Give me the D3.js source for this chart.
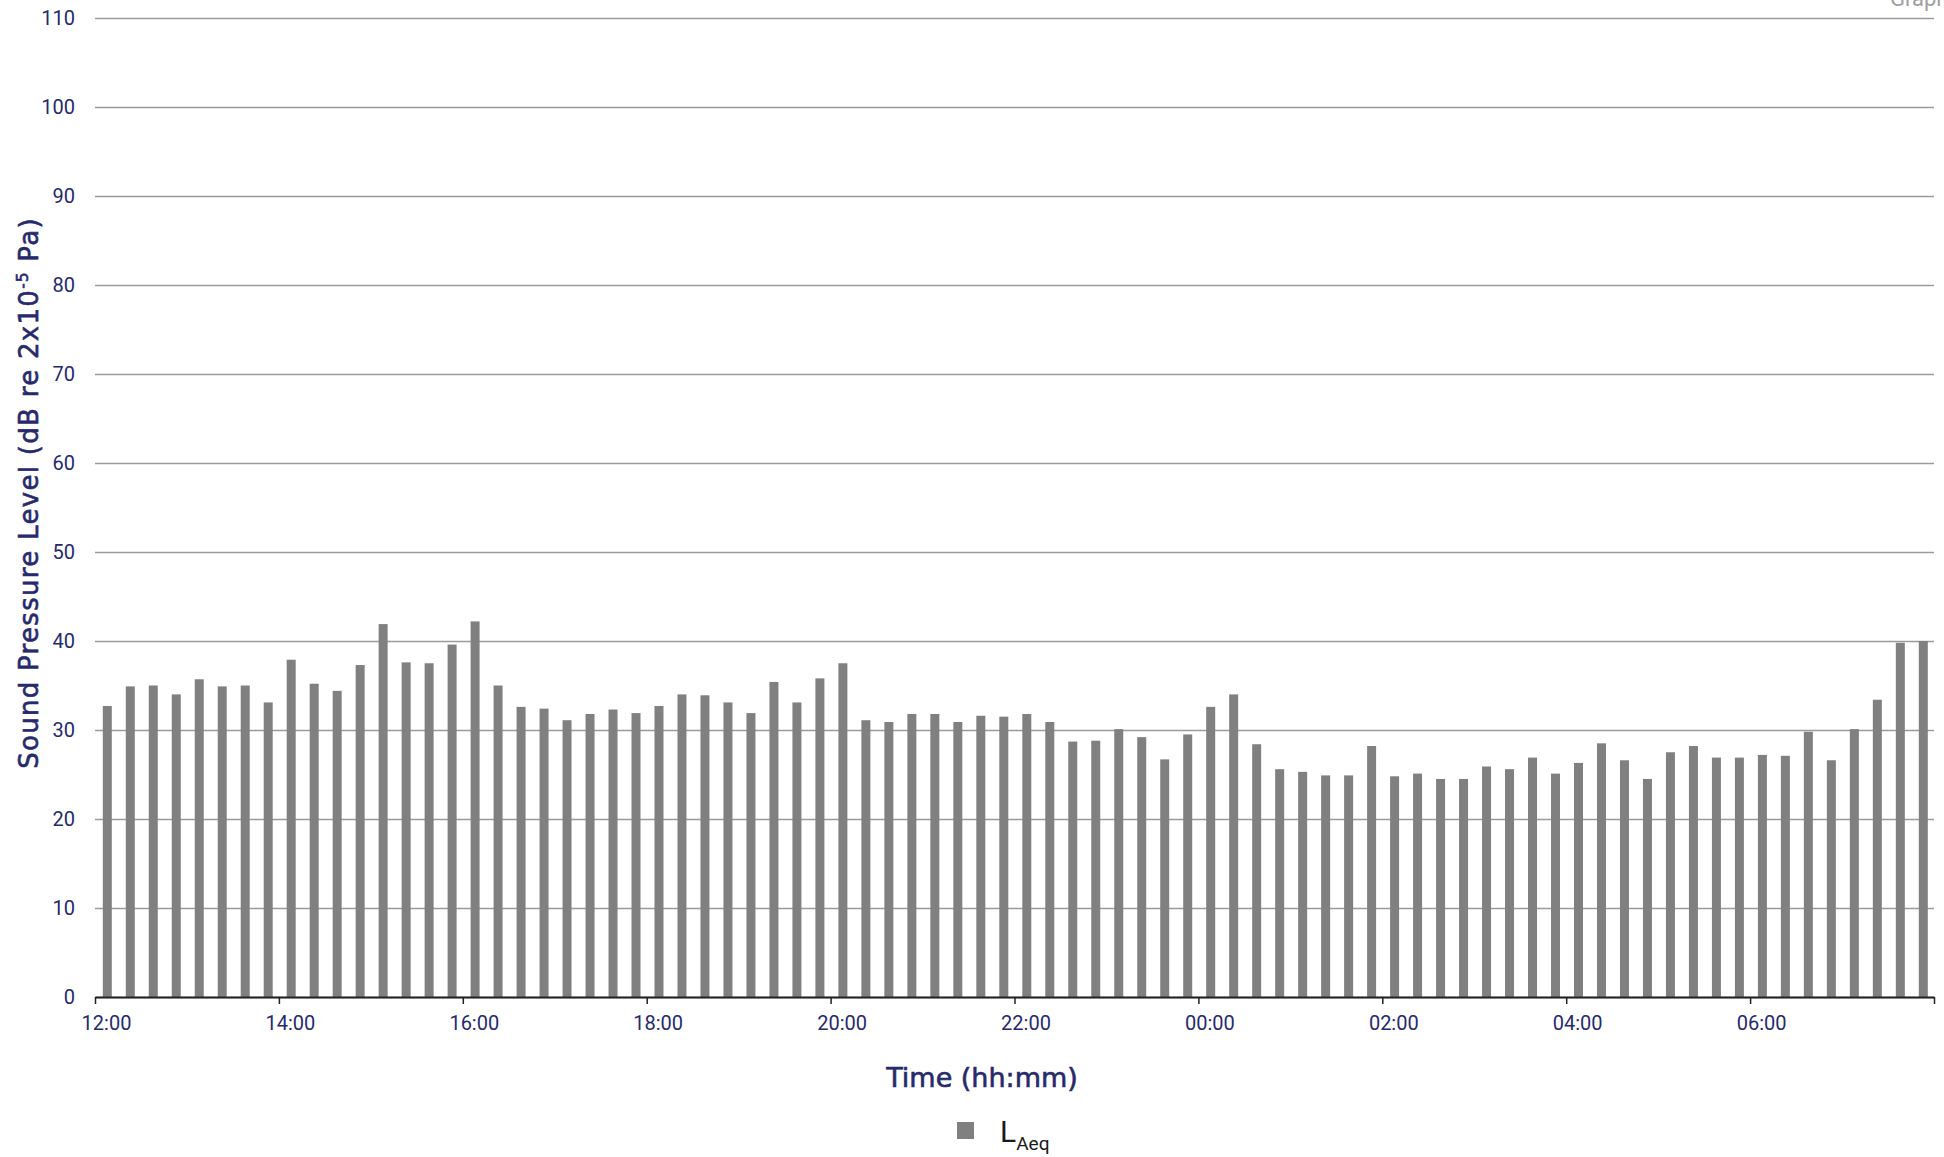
<!DOCTYPE html>
<html>
<head>
<meta charset="utf-8">
<script src="https://cdn.jsdelivr.net/npm/d3@7"></script>
<style>
  body { margin: 0; background: #fff; overflow: hidden; }
  svg { display: block; font-family: Roboto, "DejaVu Sans", sans-serif; }
</style>
</head>
<body>
<svg id="chart" width="1944" height="1157"></svg>
<script>
// 15 minute periods, 12:00 to 07:45
var times = [
	"12:00","12:15","12:30","12:45","13:00","13:15","13:30","13:45",
	"14:00","14:15","14:30","14:45","15:00","15:15","15:30","15:45",
	"16:00","16:15","16:30","16:45","17:00","17:15","17:30","17:45",
	"18:00","18:15","18:30","18:45","19:00","19:15","19:30","19:45",
	"20:00","20:15","20:30","20:45","21:00","21:15","21:30","21:45",
	"22:00","22:15","22:30","22:45","23:00","23:15","23:30","23:45",
	"00:00","00:15","00:30","00:45","01:00","01:15","01:30","01:45",
	"02:00","02:15","02:30","02:45","03:00","03:15","03:30","03:45",
	"04:00","04:15","04:30","04:45","05:00","05:15","05:30","05:45",
	"06:00","06:15","06:30","06:45","07:00","07:15","07:30","07:45"
];

// LAeq per period (dB)
var laeq = [
	32.7, 34.9, 35.0, 34.0, 35.7, 34.9, 35.0, 33.1,
	37.9, 35.2, 34.4, 37.3, 41.9, 37.6, 37.5, 39.6,
	42.2, 35.0, 32.6, 32.4, 31.1, 31.8, 32.3, 31.9,
	32.7, 34.0, 33.9, 33.1, 31.9, 35.4, 33.1, 35.8,
	37.5, 31.1, 30.9, 31.8, 31.8, 30.9, 31.6, 31.5,
	31.8, 30.9, 28.7, 28.8, 30.1, 29.2, 26.7, 29.5,
	32.6, 34.0, 28.4, 25.6, 25.3, 24.9, 24.9, 28.2,
	24.8, 25.1, 24.5, 24.5, 25.9, 25.6, 26.9, 25.1,
	26.3, 28.5, 26.6, 24.5, 27.5, 28.2, 26.9, 26.9,
	27.2, 27.1, 29.8, 26.6, 30.1, 33.4, 39.8, 40.0
];

var tickLabels = ["12:00","14:00","16:00","18:00","20:00","22:00","00:00","02:00","04:00","06:00"];
var yTicks = [0, 10, 20, 30, 40, 50, 60, 70, 80, 90, 100, 110];

var navy = "#262a6c";
var svg = d3.select("#chart");

var plotLeft = 95, plotRight = 1934, plotTop = 18, plotBottom = 997;

var x = d3.scaleBand()
	.domain(times)
	.range([plotLeft, plotRight])
	.padding(0);

// tick marks sit on band edges, one every 2 hours
var xEdge = d3.scaleLinear()
	.domain([0, times.length])
	.range([plotLeft, plotRight]);

var y = d3.scaleLinear()
	.domain([0, 110])
	.range([plotBottom, plotTop]);

// gridlines + y labels
var yAxis = svg.append("g")
	.attr("transform", "translate(" + plotLeft + ",0)")
	.call(d3.axisLeft(y)
		.tickValues(yTicks)
		.tickSize(-(plotRight - plotLeft))
		.tickPadding(20)
		.tickFormat(d3.format("d")));
yAxis.select(".domain").remove();
yAxis.selectAll(".tick line")
	.attr("stroke", "#9a9a9a")
	.attr("stroke-width", 1.3);
yAxis.selectAll(".tick text")
	.attr("fill", navy)
	.attr("font-size", 20)
	.attr("font-family", "Roboto, sans-serif");

// bars
var barW = 9;
svg.append("g")
	.selectAll("rect")
	.data(laeq)
	.enter()
		.append("rect")
			.attr("x", function(d, i) { return x(times[i]) + x.bandwidth() / 2 - barW / 2 + 0.8; })
			.attr("width", barW)
			.attr("y", function(d) { return y(d); })
			.attr("height", function(d) { return y(0) - y(d); })
			.attr("fill", "#808080");

// x axis: ticks on edges
var edgeTicks = d3.range(0, times.length + 1, 8);
var xTicks = svg.append("g")
	.attr("transform", "translate(0," + plotBottom + ")")
	.call(d3.axisBottom(xEdge)
		.tickValues(edgeTicks)
		.tickSize(7)
		.tickSizeOuter(0)
		.tickFormat(""));
xTicks.select(".domain")
	.attr("stroke", "#222")
	.attr("stroke-width", 2);
xTicks.selectAll(".tick line")
	.attr("stroke", "#222")
	.attr("stroke-width", 1.5);

// x labels centred on the bar
var xLabels = svg.append("g")
	.attr("transform", "translate(0," + plotBottom + ")")
	.call(d3.axisBottom(x)
		.tickValues(tickLabels)
		.tickSize(0)
		.tickPadding(19));
xLabels.select(".domain").remove();
xLabels.selectAll(".tick text")
	.attr("fill", navy)
	.attr("font-size", 20)
	.attr("font-family", "Roboto, sans-serif");

// axis titles (medium weight look: regular + thin stroke)
svg.append("text")
	.attr("x", 982)
	.attr("y", 1087)
	.attr("text-anchor", "middle")
	.attr("fill", navy)
	.attr("stroke", navy)
	.attr("stroke-width", 0.6)
	.attr("font-size", 27)
	.attr("font-family", "'DejaVu Sans', sans-serif")
	.text("Time (hh:mm)");

var yTitle = svg.append("text")
	.attr("transform", "translate(38,493) rotate(-90)")
	.attr("text-anchor", "middle")
	.attr("fill", navy)
	.attr("stroke", navy)
	.attr("stroke-width", 0.6)
	.attr("font-size", 26)
	.attr("letter-spacing", 1.3)
	.attr("font-family", "'DejaVu Sans', sans-serif");
yTitle.append("tspan").text("Sound Pressure Level (dB re 2x10");
yTitle.append("tspan").attr("font-size", 15).attr("dy", -10).text("-5");
yTitle.append("tspan").attr("dy", 10).text(" Pa)");

// legend
svg.append("rect")
	.attr("x", 957)
	.attr("y", 1122)
	.attr("width", 17)
	.attr("height", 17)
	.attr("fill", "#808080");
var legText = svg.append("text")
	.attr("x", 1000)
	.attr("y", 1142)
	.attr("fill", "#1a1a1a")
	.attr("font-size", 30);
legText.append("tspan").text("L");
legText.append("tspan").attr("font-size", 19).attr("dy", 8).text("Aeq");

// clipped title in the top right corner
svg.append("text")
	.attr("x", 1890)
	.attr("y", 6)
	.attr("fill", "#a0a0a0")
	.attr("font-size", 22)
	.text("Graph");
</script>
</body>
</html>
